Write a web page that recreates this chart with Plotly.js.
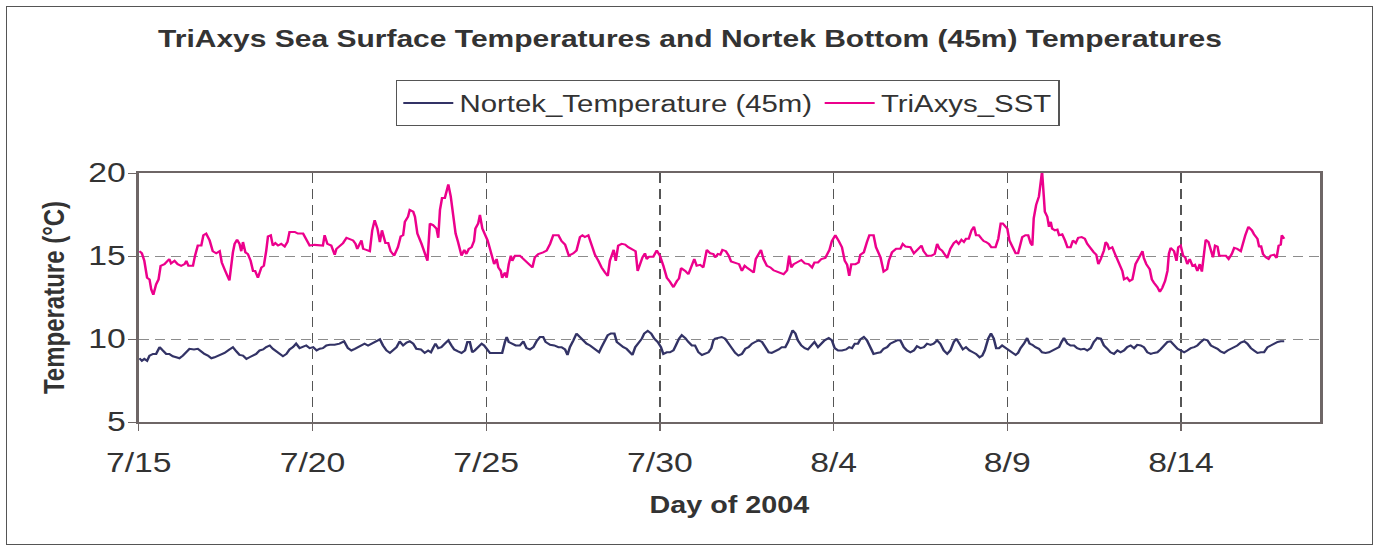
<!DOCTYPE html>
<html><head><meta charset="utf-8">
<script src="https://cdn.plot.ly/plotly-3.0.1.min.js"></script>
<style>
body{margin:0;background:#fff;overflow:hidden}
#chart{position:absolute;left:0;top:0;width:1104px;height:550px;transform:scaleX(1.25);transform-origin:0 0}
#frame{position:absolute;left:6px;top:6px;width:1365px;height:537px;border:1px solid #555;pointer-events:none}
</style>
</head><body>
<div id="chart"></div>
<div id="frame"></div>
<script>
// x values: days since 7/15/2004
const tickDays = [0, 5, 10, 15, 20, 25, 30];
const tickLabels = ['7/15', '7/20', '7/25', '7/30', '8/4', '8/9', '8/14'];

const sstDay = [0.02,0.09,0.16,0.24,0.31,0.36,0.42,0.50,0.57,0.63,0.74,0.88,0.93,1.03,1.12,1.22,1.32,1.37,1.43,1.56,1.62,1.70,1.80,1.86,1.94,2.04,2.13,2.23,2.33,2.39,2.49,2.61,2.71,2.76,2.83,2.90,2.95,3.00,3.07,3.14,3.22,3.29,3.35,3.43,3.53,3.60,3.67,3.72,3.80,3.86,3.93,4.01,4.10,4.20,4.28,4.34,4.49,4.58,4.73,4.82,4.92,5.06,5.21,5.30,5.35,5.43,5.54,5.64,5.69,5.78,5.88,5.98,6.07,6.17,6.24,6.29,6.41,6.46,6.55,6.65,6.72,6.79,6.87,6.94,7.00,7.10,7.18,7.25,7.35,7.46,7.54,7.61,7.66,7.75,7.80,7.90,7.95,8.02,8.14,8.23,
8.31,8.38,8.47,8.57,8.62,8.67,8.73,8.81,8.86,8.91,8.98,9.05,9.12,9.19,9.29,9.37,9.43,9.50,9.58,9.65,9.69,9.77,9.82,9.89,9.96,10.04,10.11,10.17,10.23,10.30,10.35,10.42,10.46,10.54,10.59,10.65,10.71,10.75,10.83,10.97,11.07,11.21,11.33,11.40,11.50,11.64,11.74,11.84,11.93,12.08,12.17,12.27,12.34,12.38,12.51,12.60,12.70,12.77,12.84,12.94,13.04,13.13,13.23,13.32,13.42,13.50,13.56,13.61,13.67,13.73,13.80,13.90,14.00,14.09,14.19,14.30,14.36,14.43,14.50,14.57,14.62,14.69,14.81,14.91,15.00,15.10,15.20,15.29,15.39,15.49,15.55,15.61,15.73,15.82,15.92,15.99,16.06,16.16,16.25,16.35,16.45,16.54,16.59,
16.67,16.74,16.80,16.90,16.98,17.05,17.17,17.28,17.36,17.44,17.50,17.57,17.70,17.76,17.84,17.91,17.98,18.08,18.18,18.27,18.37,18.46,18.56,18.66,18.72,18.78,18.85,18.94,19.07,19.17,19.28,19.38,19.45,19.55,19.65,19.76,19.88,19.95,20.05,20.15,20.24,20.32,20.39,20.45,20.51,20.63,20.72,20.77,20.87,20.96,21.03,21.15,21.22,21.35,21.44,21.54,21.59,21.68,21.80,21.92,21.99,22.07,22.21,22.31,22.37,22.45,22.53,22.59,22.69,22.82,22.91,22.98,23.05,23.12,23.20,23.27,23.36,23.46,23.53,23.60,23.68,23.75,23.81,23.89,23.97,24.04,24.10,24.18,24.26,24.32,24.39,24.47,24.54,24.66,24.74,24.81,24.87,24.95,
25.00,25.06,25.14,25.24,25.31,25.38,25.43,25.52,25.60,25.67,25.72,25.76,25.83,25.91,25.97,26.00,26.05,26.08,26.15,26.20,26.25,26.29,26.37,26.44,26.49,26.58,26.66,26.73,26.82,26.89,26.97,27.04,27.14,27.23,27.30,27.40,27.49,27.56,27.62,27.69,27.78,27.83,27.88,27.93,28.02,28.10,28.17,28.26,28.31,28.36,28.45,28.52,28.60,28.69,28.77,28.84,28.89,28.93,29.00,29.10,29.16,29.22,29.32,29.39,29.46,29.54,29.61,29.65,29.70,29.80,29.87,29.92,29.99,30.06,30.12,30.18,30.25,30.33,30.40,30.47,30.54,30.60,30.66,30.71,30.79,30.86,30.92,30.98,31.05,31.10,31.19,31.29,31.37,31.46,31.53,31.62,31.72,31.79,31.85,31.94,32.04,32.10,32.20,32.25,32.30,32.36,32.44,32.52,32.58,32.68,32.75,32.81,32.87,32.90,32.97];

const sstTemp = [15.29,15.16,14.71,13.69,13.59,12.98,12.67,13.29,13.59,14.41,14.51,14.82,14.55,14.71,14.51,14.41,14.51,14.71,14.41,14.41,15.02,15.63,15.63,16.25,16.35,15.94,15.29,15.16,15.29,14.61,14.10,13.53,15.22,15.73,15.98,15.73,15.29,15.84,15.22,15.12,14.71,14.10,14.10,13.69,14.31,14.41,15.33,16.18,16.25,15.63,15.78,15.63,15.73,15.57,15.84,16.45,16.45,16.35,16.35,16.04,15.63,15.67,15.67,15.63,16.25,15.73,15.63,15.08,15.43,15.63,15.78,16.10,16.04,15.94,15.73,15.43,15.94,15.43,15.37,15.29,16.55,17.16,16.65,15.84,16.55,15.78,15.78,15.29,15.02,15.53,16.18,16.25,17.06,17.37,17.78,17.67,17.37,16.35,15.73,15.12,
14.71,16.96,16.86,16.65,16.10,17.78,18.49,18.49,19.00,19.31,18.59,17.57,16.35,15.84,15.02,15.37,15.12,15.43,15.53,15.90,16.65,16.96,17.47,16.65,16.35,15.94,15.43,14.92,14.51,14.82,14.31,14.10,13.69,14.00,13.69,14.51,15.02,14.71,15.02,15.02,14.82,14.61,14.31,14.92,15.12,15.22,15.33,15.73,16.25,16.25,15.90,15.69,15.33,15.02,15.16,15.33,16.14,16.25,16.14,16.25,15.63,15.08,14.71,14.31,14.00,13.80,14.71,14.96,15.37,14.71,15.63,15.73,15.69,15.53,15.43,15.29,14.10,14.51,14.92,15.16,14.82,14.96,14.96,15.33,15.02,14.41,13.69,13.45,13.12,13.49,13.65,14.27,14.10,13.90,14.51,14.82,14.41,14.47,14.31,15.37,15.16,15.12,14.92,
15.12,15.08,15.37,15.29,15.02,14.67,14.61,14.51,14.10,14.41,14.31,14.20,14.00,14.82,15.12,15.37,14.82,14.41,14.31,14.14,14.06,14.00,13.90,14.14,15.02,14.31,14.51,14.61,14.76,14.55,14.51,14.31,14.61,14.61,14.82,14.88,15.37,15.90,16.25,15.90,15.53,14.71,14.47,13.80,14.51,14.51,14.61,15.08,15.22,15.84,16.25,16.25,15.53,14.92,14.06,14.20,14.71,15.22,15.43,15.43,15.73,15.57,15.53,15.16,15.29,15.53,15.63,15.29,15.02,15.02,15.12,15.73,15.43,15.33,15.12,14.88,15.43,15.78,15.90,15.73,15.98,15.84,16.04,16.04,16.55,16.76,16.25,16.25,16.04,15.90,15.84,15.73,15.53,15.53,16.04,16.96,16.96,16.76,
16.65,15.94,15.57,15.16,15.16,15.73,16.14,16.25,16.25,15.78,15.63,17.27,18.08,18.59,19.41,20.10,18.59,17.67,17.37,16.76,17.06,16.65,16.55,16.59,16.25,16.31,15.94,15.53,15.53,15.94,15.78,16.10,16.14,16.04,15.73,15.43,15.22,15.08,14.51,14.82,15.33,15.84,15.73,15.43,15.53,15.12,14.82,14.41,14.10,13.59,13.69,13.49,13.59,14.51,14.82,15.08,15.29,14.88,14.51,14.20,13.59,13.39,13.12,12.84,13.08,13.49,14.10,15.12,15.49,15.29,14.71,15.53,15.63,15.02,14.92,14.51,14.82,14.41,14.47,14.10,14.51,14.06,15.12,15.98,15.84,15.22,14.92,15.63,15.57,15.02,15.02,15.02,14.82,15.12,15.49,15.43,15.29,15.94,16.25,16.76,16.55,16.31,16.04,15.53,15.63,15.12,14.92,14.82,15.02,15.08,14.88,15.63,15.69,16.25,16.04];

const nortekDay = [0.02,0.09,0.16,0.24,0.31,0.41,0.50,0.60,0.69,0.79,0.88,0.98,1.08,1.17,1.27,1.37,1.46,1.59,1.70,1.80,1.89,1.99,2.09,2.18,2.28,2.37,2.47,2.61,2.71,2.81,2.90,3.00,3.10,3.19,3.29,3.38,3.48,3.58,3.67,3.77,3.86,3.96,4.05,4.15,4.25,4.34,4.44,4.53,4.63,4.73,4.82,4.92,5.02,5.12,5.21,5.30,5.40,5.50,5.64,5.78,5.91,6.02,6.12,6.22,6.31,6.41,6.50,6.60,6.70,6.81,6.94,7.03,7.13,7.23,7.32,7.42,7.51,7.61,7.71,7.80,7.90,7.99,8.12,8.23,
8.33,8.41,8.47,8.54,8.62,8.71,8.81,8.91,9.00,9.08,9.19,9.29,9.39,9.46,9.53,9.60,9.67,9.77,9.87,9.94,10.01,10.11,10.25,10.39,10.46,10.54,10.59,10.65,10.75,10.85,10.97,11.07,11.16,11.26,11.36,11.45,11.55,11.64,11.71,11.84,11.96,12.08,12.17,12.27,12.34,12.41,12.51,12.60,12.70,12.80,12.89,12.99,13.08,13.18,13.25,13.32,13.42,13.50,13.59,13.69,13.76,13.85,13.95,14.04,14.14,14.21,14.29,14.38,14.48,14.55,14.65,14.75,14.84,14.94,15.03,15.10,15.20,15.29,15.39,15.46,15.55,15.63,15.73,15.82,15.92,16.01,16.11,16.21,16.30,16.40,16.48,16.54,16.59,
16.69,16.78,16.88,16.97,17.07,17.17,17.26,17.36,17.46,17.55,17.65,17.74,17.84,17.94,18.03,18.13,18.22,18.32,18.42,18.51,18.61,18.69,18.75,18.82,18.90,18.97,19.07,19.17,19.26,19.36,19.45,19.55,19.65,19.74,19.86,19.95,20.03,20.13,20.24,20.36,20.45,20.53,20.61,20.70,20.77,20.87,20.96,21.06,21.15,21.25,21.35,21.44,21.54,21.63,21.73,21.83,21.92,22.02,22.11,22.21,22.31,22.40,22.50,22.60,22.69,22.79,22.88,22.98,23.07,23.17,23.27,23.36,23.46,23.53,23.62,23.72,23.81,23.91,24.01,24.10,24.20,24.28,24.35,24.45,24.53,24.61,24.68,24.76,24.85,24.95,
25.04,25.14,25.24,25.31,25.38,25.48,25.57,25.64,25.72,25.81,25.91,26.00,26.10,26.20,26.29,26.39,26.49,26.56,26.63,26.73,26.82,26.92,27.01,27.11,27.21,27.30,27.40,27.49,27.59,27.69,27.78,27.88,27.97,28.07,28.17,28.26,28.36,28.45,28.55,28.65,28.74,28.84,28.93,29.03,29.13,29.22,29.32,29.41,29.51,29.61,29.70,29.80,29.90,29.99,30.09,30.18,30.28,30.38,30.47,30.57,30.66,30.76,30.86,30.95,31.05,31.14,31.24,31.34,31.43,31.53,31.62,31.72,31.82,31.91,32.01,32.10,32.20,32.30,32.39,32.49,32.58,32.68,32.78,32.87,32.97];

const nortekTemp = [8.84,8.69,8.80,8.69,9.00,9.10,9.10,9.51,9.31,9.10,9.10,8.96,8.90,8.84,9.00,9.20,9.41,9.37,9.41,9.25,9.10,9.00,8.84,8.90,9.00,9.10,9.16,9.37,9.51,9.25,9.04,9.00,8.80,8.90,9.00,9.10,9.31,9.37,9.51,9.61,9.41,9.25,9.10,8.96,9.10,9.37,9.51,9.72,9.45,9.51,9.61,9.45,9.51,9.31,9.41,9.45,9.61,9.65,9.65,9.72,9.86,9.45,9.31,9.41,9.51,9.61,9.72,9.61,9.72,9.86,9.98,9.61,9.31,9.16,9.31,9.51,9.86,9.61,9.78,9.86,9.72,9.41,9.37,9.16,
9.31,9.20,9.45,9.72,9.45,9.51,9.72,9.92,9.61,9.37,9.25,9.16,9.31,9.82,9.82,9.20,9.31,9.51,9.72,9.61,9.41,9.16,9.16,9.16,9.16,9.82,10.12,9.82,9.72,9.61,9.61,9.86,9.45,9.37,9.51,9.86,10.12,10.12,9.82,9.65,9.61,9.51,9.51,9.37,9.04,9.51,9.92,10.33,10.12,9.92,9.72,9.61,9.45,9.31,9.20,9.51,9.92,10.23,10.33,10.33,9.82,9.65,9.51,9.41,9.20,9.04,9.51,9.72,10.02,10.33,10.49,10.33,10.02,9.82,9.51,9.10,9.20,9.20,9.31,9.61,10.02,10.23,10.06,9.82,9.61,9.61,9.20,9.04,9.10,9.20,9.45,9.92,10.02,
10.06,10.12,10.02,9.72,9.45,9.16,9.00,9.10,9.41,9.51,9.72,9.82,9.92,9.82,9.51,9.20,9.16,9.25,9.37,9.51,9.51,9.82,10.19,10.53,10.33,9.92,9.61,9.45,9.37,9.61,9.82,9.51,9.72,9.92,10.06,9.92,9.45,9.31,9.31,9.37,9.51,9.45,9.72,9.72,9.98,10.12,9.92,9.51,9.10,9.16,9.20,9.41,9.51,9.72,9.82,9.92,9.92,9.51,9.31,9.20,9.31,9.57,9.45,9.51,9.72,9.65,9.72,9.92,9.72,9.31,9.10,9.31,9.82,10.02,9.72,9.37,9.51,9.31,9.20,9.10,8.90,9.00,9.31,10.02,10.33,10.02,9.45,9.45,9.61,9.45,
9.31,9.20,9.04,9.16,9.45,9.72,10.06,9.72,9.65,9.51,9.41,9.20,9.16,9.20,9.31,9.41,9.51,9.82,10.06,9.72,9.61,9.61,9.45,9.37,9.41,9.31,9.45,9.82,10.06,10.02,9.61,9.41,9.20,9.10,9.31,9.20,9.31,9.51,9.61,9.45,9.65,9.61,9.51,9.20,9.10,9.16,9.20,9.37,9.61,9.82,9.86,9.61,9.41,9.31,9.20,9.31,9.45,9.51,9.61,9.82,9.98,9.92,9.61,9.51,9.41,9.25,9.16,9.31,9.41,9.51,9.61,9.78,9.86,9.72,9.45,9.31,9.16,9.20,9.20,9.51,9.61,9.72,9.82,9.86,9.86];

const FONT = 'Liberation Sans, Arial, sans-serif';
const TXT = '#333333';

const traces = [
  {x: nortekDay, y: nortekTemp, type: 'scatter', mode: 'lines', name: 'Nortek_Temperature (45m)',
   line: {color: '#333366', width: 2}},
  {x: sstDay, y: sstTemp, type: 'scatter', mode: 'lines', name: 'TriAxys_SST',
   line: {color: '#ec008c', width: 2}}
];

const layout = {
  width: 1104, height: 550,
  paper_bgcolor: '#ffffff', plot_bgcolor: '#ffffff',
  margin: {l: 111.2, r: 48, t: 173, b: 128, pad: 0},
  font: {family: FONT, color: TXT, size: 22},
  title: {text: '<b>TriAxys Sea Surface Temperatures and Nortek Bottom (45m) Temperatures</b>',
          font: {family: FONT, size: 24, color: TXT}, x: 0.5, xanchor: 'center', y: 0.93, yanchor: 'middle'},
  showlegend: true,
  legend: {orientation: 'h', x: 0.2176, xanchor: 'left', y: 1.373, yanchor: 'top',
           bordercolor: '#555555', borderwidth: 1, bgcolor: '#ffffff',
           font: {family: FONT, size: 23.5, color: TXT}, itemwidth: 40},
  xaxis: {
    range: [0, 34], tickmode: 'array', tickvals: tickDays, ticktext: tickLabels,
    showline: true, linecolor: '#6e6666', linewidth: 2, mirror: true,
    ticks: 'outside', ticklen: 7, tickcolor: '#6e6666', tickwidth: 1,
    showgrid: true, gridcolor: '#555555', griddash: '10px,6px', gridwidth: 1,
    zeroline: false, tickfont: {size: 27, color: TXT}, ticklabelstandoff: 9,
    title: {text: '<b>Day of 2004</b>', font: {size: 23, color: TXT}, standoff: 20}
  },
  yaxis: {
    range: [5, 20], tickvals: [5, 10, 15, 20],
    showline: true, linecolor: '#6e6666', linewidth: 2, mirror: true,
    ticks: 'outside', ticklen: 7, tickcolor: '#6e6666', tickwidth: 1,
    showgrid: true, gridcolor: '#8c8c8c', griddash: '8px,5px', gridwidth: 1,
    zeroline: false, tickfont: {size: 27, color: TXT}, ticklabelstandoff: -4,
    title: {text: '<b>Temperature (°C)</b>', font: {size: 24, color: TXT}, standoff: 12}
  }
};

Plotly.newPlot('chart', traces, layout, {displayModeBar: false, staticPlot: true});
</script>
</body></html>
